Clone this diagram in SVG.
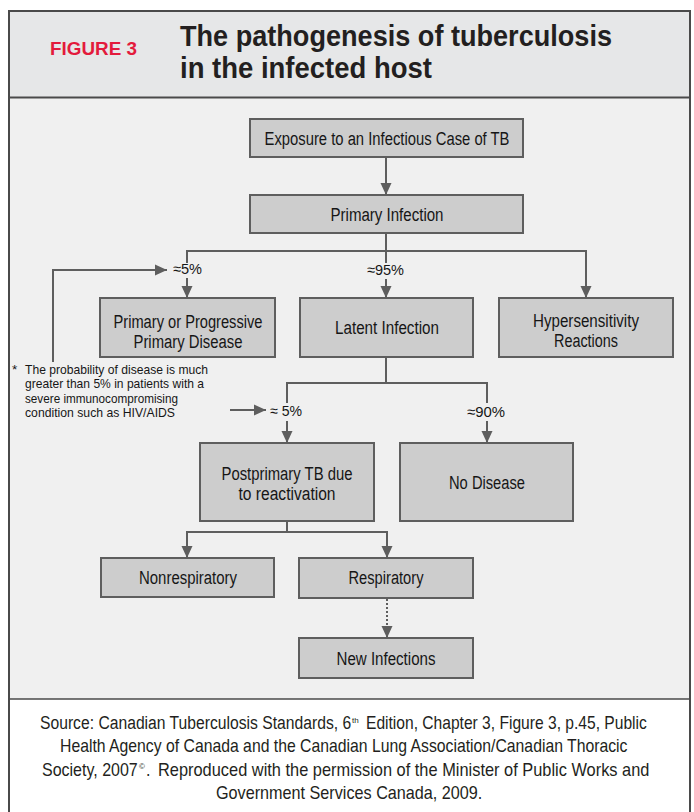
<svg xmlns="http://www.w3.org/2000/svg" width="694" height="812" viewBox="0 0 694 812">
<style>
.box{fill:#cdcdcd;stroke:#5e5e5e;stroke-width:2}
.bt{font-family:"Liberation Sans",Arial,sans-serif;font-size:18px;fill:#161616;text-anchor:middle}
.pl{font-family:"Liberation Sans",Arial,sans-serif;font-size:15px;fill:#161616}
.fn{font-family:"Liberation Sans",Arial,sans-serif;font-size:13.5px;fill:#161616}
.cap{font-family:"Liberation Sans",Arial,sans-serif;font-size:18px;fill:#231f20}
.sup{font-family:"Liberation Sans",Arial,sans-serif;font-size:8px;fill:#231f20}
.ttl{font-family:"Liberation Sans",Arial,sans-serif;font-size:29.5px;font-weight:bold;fill:#231f20}
.ln{fill:none;stroke:#5e5e5e;stroke-width:2}
.dot{fill:none;stroke:#5e5e5e;stroke-width:2;stroke-dasharray:2 2}
</style>
<defs>
<marker id="ah" viewBox="0 0 12 12" refX="12" refY="6" markerWidth="12" markerHeight="12" markerUnits="userSpaceOnUse" orient="auto"><path d="M0,0.5 L12,6 L0,11.5 z" fill="#5e5e5e"/></marker>
</defs>
<rect x="0" y="0" width="694" height="812" fill="#ffffff"/>
<g id="frame">
<rect x="9" y="11" width="681" height="87" fill="#e6e7e8"/>
<rect x="9" y="98" width="681" height="601" fill="#f0f0f0"/>
<rect x="9" y="11" width="681" height="820" fill="none" stroke="#4a4a4a" stroke-width="2"/>
<line x1="9" y1="97.5" x2="690" y2="97.5" stroke="#4a4a4a" stroke-width="2"/>
<line x1="9" y1="699" x2="690" y2="699" stroke="#4a4a4a" stroke-width="1.5"/>
</g>
<g id="header">
<text x="50" y="55" font-family="'Liberation Sans',Arial,sans-serif" font-size="18" font-weight="bold" fill="#e31b3c" textLength="87" lengthAdjust="spacingAndGlyphs">FIGURE 3</text>
<text class="ttl" x="180" y="46" textLength="432" lengthAdjust="spacingAndGlyphs">The pathogenesis of tuberculosis</text>
<text class="ttl" x="180" y="78" textLength="252" lengthAdjust="spacingAndGlyphs">in the infected host</text>
</g>
<g id="connectors">
<path class="ln" d="M386,157 V195" marker-end="url(#ah)"/>
<path class="ln" d="M386,233 V263"/>
<path class="ln" d="M187,263 V251 H586 V298" marker-end="url(#ah)"/>
<path class="ln" d="M187,278 V298" marker-end="url(#ah)"/>
<path class="ln" d="M386,279 V298" marker-end="url(#ah)"/>
<path class="ln" d="M53,362 V270 H167" marker-end="url(#ah)"/>
<path class="ln" d="M386,357 V383"/>
<path class="ln" d="M287,403 V383 H487 V403"/>
<path class="ln" d="M287,421 V443" marker-end="url(#ah)"/>
<path class="ln" d="M487,421 V443" marker-end="url(#ah)"/>
<path class="ln" d="M230,410 H266" marker-end="url(#ah)"/>
<path class="ln" d="M287,521 V532"/>
<path class="ln" d="M187,558 V532 H387 V558" marker-end="url(#ah)"/>
<path class="ln" d="M187,540 V558" marker-end="url(#ah)"/>
<path class="dot" d="M387,599 V638" marker-end="url(#ah)"/>
</g>
<g id="labels">
<text class="pl" x="173" y="274" textLength="29" lengthAdjust="spacingAndGlyphs">≈5%</text>
<text class="pl" x="367" y="275" textLength="37" lengthAdjust="spacingAndGlyphs">≈95%</text>
<text class="pl" x="270" y="416" textLength="32" lengthAdjust="spacingAndGlyphs">≈ 5%</text>
<text class="pl" x="467" y="417" textLength="38" lengthAdjust="spacingAndGlyphs">≈90%</text>
</g>
<g id="n-exposure">
<rect class="box" x="250" y="119" width="273" height="38"/>
<text class="bt" x="387" y="144.5" textLength="245" lengthAdjust="spacingAndGlyphs">Exposure to an Infectious Case of TB</text>
</g>
<g id="n-primary-infection">
<rect class="box" x="250" y="195" width="273" height="38"/>
<text class="bt" x="387" y="220.5" textLength="113" lengthAdjust="spacingAndGlyphs">Primary Infection</text>
</g>
<g id="n-primary-disease">
<rect class="box" x="100" y="298" width="175" height="59"/>
<text class="bt" x="188" y="327.5" textLength="149" lengthAdjust="spacingAndGlyphs">Primary or Progressive</text>
<text class="bt" x="188" y="348" textLength="109" lengthAdjust="spacingAndGlyphs">Primary Disease</text>
</g>
<g id="n-latent">
<rect class="box" x="300" y="298" width="173" height="59"/>
<text class="bt" x="387" y="334" textLength="104" lengthAdjust="spacingAndGlyphs">Latent Infection</text>
</g>
<g id="n-hypersensitivity">
<rect class="box" x="499" y="298" width="174" height="59"/>
<text class="bt" x="586" y="326.5" textLength="106" lengthAdjust="spacingAndGlyphs">Hypersensitivity</text>
<text class="bt" x="586" y="347" textLength="64" lengthAdjust="spacingAndGlyphs">Reactions</text>
</g>
<g id="footnote">
<text class="fn" x="12" y="374">*</text>
<text class="fn" x="25" y="374" textLength="183" lengthAdjust="spacingAndGlyphs">The probability of disease is much</text>
<text class="fn" x="25" y="388.4" textLength="179" lengthAdjust="spacingAndGlyphs">greater than 5% in patients with a</text>
<text class="fn" x="25" y="402.8" textLength="153" lengthAdjust="spacingAndGlyphs">severe immunocompromising</text>
<text class="fn" x="25" y="417.2" textLength="150" lengthAdjust="spacingAndGlyphs">condition such as HIV/AIDS</text>
</g>
<g id="n-postprimary">
<rect class="box" x="200" y="443" width="174" height="78"/>
<text class="bt" x="287" y="479.5" textLength="131" lengthAdjust="spacingAndGlyphs">Postprimary TB due</text>
<text class="bt" x="287" y="499.5" textLength="97" lengthAdjust="spacingAndGlyphs">to reactivation</text>
</g>
<g id="n-no-disease">
<rect class="box" x="400" y="443" width="173" height="78"/>
<text class="bt" x="487" y="489" textLength="76" lengthAdjust="spacingAndGlyphs">No Disease</text>
</g>
<g id="n-nonrespiratory">
<rect class="box" x="101" y="558" width="173" height="39"/>
<text class="bt" x="188" y="584" textLength="98" lengthAdjust="spacingAndGlyphs">Nonrespiratory</text>
</g>
<g id="n-respiratory">
<rect class="box" x="299" y="558" width="174" height="40"/>
<text class="bt" x="386" y="584" textLength="75" lengthAdjust="spacingAndGlyphs">Respiratory</text>
</g>
<g id="n-new-infections">
<rect class="box" x="299" y="638" width="174" height="40"/>
<text class="bt" x="386" y="664.5" textLength="99" lengthAdjust="spacingAndGlyphs">New Infections</text>
</g>
<g id="caption">
<text class="cap" transform="matrix(0.8715 0 0 1 40 729)">Source: Canadian Tuberculosis Standards, 6</text>
<text class="sup" x="352" y="723">th</text>
<text class="cap" transform="matrix(0.867 0 0 1 366 729)">Edition, Chapter 3, Figure 3, p.45, Public</text>
<text class="cap" transform="matrix(0.8765 0 0 1 60 752)">Health Agency of Canada and the Canadian Lung Association/Canadian Thoracic</text>
<text class="cap" transform="matrix(0.89 0 0 1 42 776)">Society, 2007</text>
<text class="sup" x="139" y="769">©</text>
<text class="cap" transform="matrix(0.89 0 0 1 146 776)">.</text>
<text class="cap" transform="matrix(0.911 0 0 1 158 776)">Reproduced with the permission of the Minister of Public Works and</text>
<text class="cap" transform="matrix(0.9 0 0 1 216 799)">Government Services Canada, 2009.</text>
</g>
</svg>
